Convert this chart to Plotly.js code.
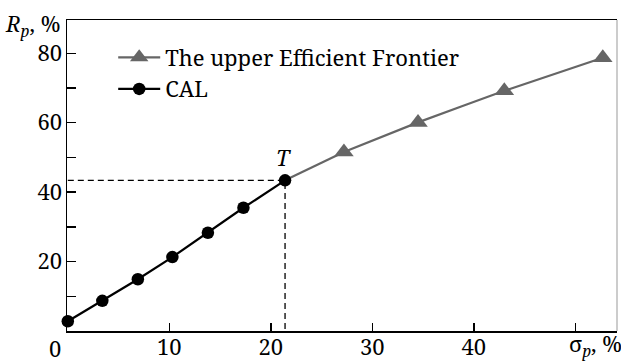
<!DOCTYPE html>
<html><head><meta charset="utf-8">
<script src="https://cdn.plot.ly/plotly-3.0.1.min.js"></script>
<style>html,body{margin:0;padding:0;background:#fff;}#chart{width:621px;height:363px;}</style>
</head><body><div id="chart"></div>
<script>
// CAL (capital allocation line) points: sigma_p (%) and R_p (%)
const calSigma = [0, 3.4, 6.9, 10.3, 13.8, 17.3, 21.4];
const calReturn = [2.8, 8.7, 14.9, 21.3, 28.3, 35.5, 43.4];
// Upper efficient frontier points
const frontierSigma = [27.2, 34.5, 43.0, 52.7];
const frontierReturn = [51.6, 60.1, 69.2, 78.7];
// Tick labels
const xTickVals = [10, 20, 30, 40, 50];
const xTickText = ['10', '20', '30', '40', ''];
const yTickVals = [10, 20, 30, 40, 50, 60, 70, 80];
const yTickText = ['', '20', '', '40', '', '60', '', '80'];
const seriesNames = ['The upper Efficient Frontier', 'CAL'];

const tSigma = calSigma[calSigma.length - 1];
const tReturn = calReturn[calReturn.length - 1];
const FONT = '"Noto Serif", "Liberation Serif", serif';

const traces = [
  {
    x: [0, tSigma, tSigma], y: [tReturn, tReturn, 0],
    mode: 'lines', line: {color: '#000', width: 1.3, dash: '6px,4px'},
    showlegend: false, hoverinfo: 'skip', cliponaxis: false
  },
  {
    x: [tSigma, frontierSigma[0]], y: [tReturn, frontierReturn[0]],
    mode: 'lines', line: {color: '#666666', width: 2.2},
    showlegend: false, hoverinfo: 'skip', cliponaxis: false
  },
  {
    x: frontierSigma, y: frontierReturn,
    name: seriesNames[0], mode: 'lines+markers', legendrank: 1, legendgroup: 'ef',
    line: {color: '#666666', width: 2.2, shape: 'spline', smoothing: 0.3},
    marker: {symbol: 'triangle-up', size: 17, color: '#666666'},
    cliponaxis: false
  },
  {
    x: calSigma, y: calReturn, name: seriesNames[1], mode: 'lines+markers', legendrank: 2, legendgroup: 'cal',
    line: {color: '#000', width: 2.2},
    marker: {symbol: 'circle', size: 12.5, color: '#000'},
    cliponaxis: false
  }
];

const layout = {
  width: 621, height: 363,
  margin: {l: 67, r: 4, t: 20, b: 32, pad: 0},
  paper_bgcolor: '#fff', plot_bgcolor: '#fff',
  font: {family: FONT, size: 22, color: '#000'},
  showlegend: true,
  legend: {
    x: 0.084, y: 0.947, xanchor: 'left', yanchor: 'top',
    bgcolor: 'rgba(0,0,0,0)', itemwidth: 42, traceorder: 'grouped',
    font: {family: FONT, size: 22, color: '#000'},
    tracegroupgap: 0
  },
  xaxis: {
    range: [-0.08, 54.1], showgrid: false, zeroline: false,
    showline: true, linecolor: '#000', linewidth: 1.5, mirror: true,
    ticks: 'inside', ticklen: 8, tickwidth: 1.4, tickcolor: '#000',
    tickvals: xTickVals, ticktext: xTickText, ticklabelstandoff: -4,
    tickfont: {family: FONT, size: 22, color: '#000'},
    layer: 'below traces'
  },
  yaxis: {
    range: [0, 89.6], showgrid: false, zeroline: false,
    showline: true, linecolor: '#000', linewidth: 1.5,
    ticks: 'inside', ticklen: 9, tickwidth: 1.4, tickcolor: '#000',
    tickvals: yTickVals, ticktext: yTickText, ticklabelstandoff: -1,
    tickfont: {family: FONT, size: 22, color: '#000'},
    layer: 'below traces'
  },
  shapes: [
    {type: 'line', xref: 'paper', yref: 'paper', x0: 1, x1: 1, y0: 0, y1: 1,
     line: {color: '#aaaaaa', width: 1.2}}
  ],
  annotations: [
    {xref: 'paper', yref: 'paper', x: -0.022, y: -0.055, text: '0', showarrow: false,
     xanchor: 'center', yanchor: 'middle', font: {family: FONT, size: 22}},
    {xref: 'x', yref: 'y', x: tSigma, y: tReturn, text: '<i>T</i>', showarrow: false,
     xanchor: 'center', yanchor: 'middle', xshift: -2, yshift: 23, font: {family: FONT, size: 22}},
    {xref: 'paper', yref: 'paper', x: -0.01, y: 0.985, text: '<i>R</i><sub><i>p</i></sub>, %', showarrow: false,
     xanchor: 'right', yanchor: 'middle', font: {family: FONT, size: 22}},
    {xref: 'paper', yref: 'paper', x: 1.012, y: -0.045, text: 'σ<sub><i>p</i></sub>, %', showarrow: false,
     xanchor: 'right', yanchor: 'middle', font: {family: FONT, size: 22}}
  ]
};

Plotly.newPlot('chart', traces, layout, {displayModeBar: false, staticPlot: true});
</script>
</body></html>
